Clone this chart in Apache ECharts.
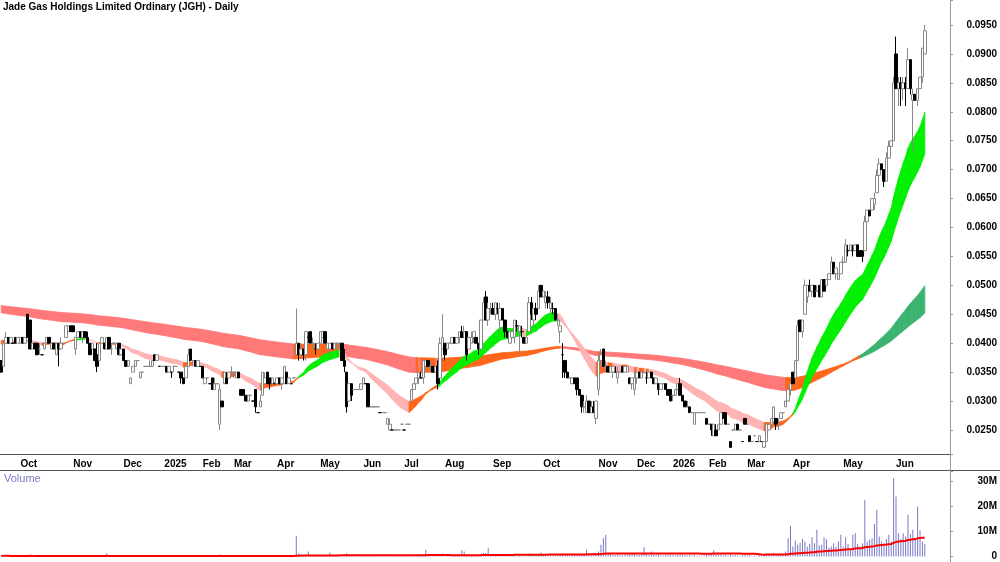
<!DOCTYPE html>
<html>
<head>
<meta charset="utf-8">
<script src="https://cdn.jsdelivr.net/npm/echarts@6/dist/echarts.min.js"></script>
<style>
  html, body { margin: 0; padding: 0; background: #fff; }
  #chart { width: 1000px; height: 562px; }
</style>
</head>
<body>
<div id="chart"></div>
<script>
// daily bars: [open, high, low, close, volume]
// prices in tenths of a cent (0.001), volume in 100k shares
var sep24 = [[37,37,35,35,3],[36,40,36,40,2],[40,42,40,41,4],[41,41,40,40,2],[40,41,40,41,1],[40,40,40,40,1],[41,41,40,40,2],[40,41,40,41,3]];
var oct24 = [[40,41,40,41,2],[41,41,40,40,1],[40,41,40,41,2],[45,45,41,41,6],[44,44,39,39,4],[39,40,39,40,2],[40,40,39,39,1],[40,40,38,38,3],[39,40,38,39,2],[38,38,38,38,1],[39,40,39,40,2],[40,41,40,41,1],[41,41,40,40,2],[39,40,39,40,3],[40,40,39,39,1],[38,40,38,40,2],[40,40,36,39,4],[39,41,39,40,2],[40,40,40,40,1],[41,43,41,43,3],[42,43,42,43,2],[43,43,42,42,2]];
var nov24 = [[43,43,42,42,2],[39,41,38,41,3],[41,42,41,42,1],[42,42,41,41,2],[41,42,40,42,1],[42,42,41,41,2],[41,42,40,40,3],[40,40,38,38,2],[39,40,39,40,1],[39,39,37,37,2],[38,40,35,36,4],[37,40,37,40,2],[40,41,40,41,2],[40,40,39,39,1],[39,41,39,41,13],[41,41,39,39,3],[39,40,38,39,1],[40,40,40,40,1],[39,40,39,40,2],[40,40,38,38,3],[38,39,38,39,1]];
var dec24 = [[39,39,37,37,3],[37,37,36,36,2],[36,37,36,37,1],[33,34,33,34,4],[35,36,35,36,2],[36,37,36,37,1],[37,37,37,37,1],[34,35,34,35,2],[35,35,35,35,1],[36,36,36,36,1],[36,36,36,36,2],[36,37,36,36,1],[36,37,36,37,2],[38,38,37,37,3],[37,38,37,38,2],[36,36,36,36,1],[36,36,36,36,1]];
var jan25 = [[36,36,36,36,1],[36,36,35,35,2],[35,36,35,36,2],[35,35,34,35,1],[36,36,35,36,2],[36,36,36,36,1],[35,35,35,35,1],[35,35,33,34,3],[34,34,33,33,2],[34,36,34,36,2],[36,39,36,38,5],[39,39,37,37,3],[37,37,36,37,1],[37,37,36,36,1],[36,37,36,37,2],[36,36,36,36,1]];
var feb25 = [[36,36,34,34,3],[33,34,33,34,2],[34,34,34,34,1],[33,33,33,33,1],[34,34,32,32,3],[32,34,32,33,2],[33,33,33,33,1],[26,33,25,32,8],[30,30,29,29,4],[33,35,33,35,3],[34,35,33,33,2],[34,35,34,35,1],[35,36,35,35,2]];
var mar25 = [[35,35,34,35,2],[34,35,34,35,1],[35,35,34,34,2],[32,32,31,31,4],[32,32,31,31,3],[31,31,30,30,2],[30,31,30,31,1],[31,31,31,31,1],[30,30,30,30,1],[32,32,28,29,5],[28,28,28,28,2],[29,31,29,30,2],[31,35,31,35,6],[33,35,33,34,3],[35,35,33,33,2],[34,34,32,33,2],[33,34,33,34,1],[33,33,33,33,1]];
var apr25 = [[33,34,33,34,2],[34,34,33,33,1],[33,34,32,34,2],[33,36,33,36,4],[35,35,33,33,2],[33,34,33,34,1],[33,33,33,33,1],[34,34,34,34,1],[38,46,38,40,83],[40,40,37,38,12],[38,40,38,39,6],[39,39,37,38,4],[38,42,37,42,8],[41,42,40,41,20],[42,42,40,40,5],[40,41,39,40,4],[39,40,38,39,3],[39,40,39,40,2]];
var may25 = [[40,42,40,42,4],[41,42,41,42,3],[42,42,40,40,5],[39,40,39,40,3],[39,40,38,40,16],[40,40,39,39,3],[39,40,39,40,2],[40,40,39,40,4],[40,40,39,40,3],[40,40,37,37,6],[37,39,35,36,5],[35,35,28,29,13],[30,33,30,33,6],[33,33,30,31,3],[32,32,32,32,2],[32,32,32,32,2],[32,32,32,32,1],[32,33,32,33,3]];
var jun25 = [[33,34,33,34,3],[33,33,33,33,2],[33,33,29,29,8],[29,29,29,29,3],[29,29,29,29,2],[29,29,29,29,1],[29,29,29,29,2],[28,28,28,28,2],[28,28,28,28,1],[28,28,28,28,1],[26,27,26,27,5],[25,27,25,26,6],[25,25,25,25,3],[25,25,25,25,2],[25,25,25,25,2],[25,25,25,25,1],[26,26,26,26,2]];
var jul25 = [[25,25,25,25,2],[26,26,26,26,2],[26,26,26,26,1],[30,32,30,32,6],[32,33,32,33,5],[33,34,33,34,4],[34,35,33,35,4],[34,35,34,34,7],[34,37,33,37,5],[36,37,35,37,27],[37,37,36,36,6],[36,37,35,36,4],[36,36,35,35,3],[35,36,35,36,3],[36,37,32,33,6],[34,41,34,40,9],[39,45,39,41,12]];
var aug25 = [[40,40,37,38,8],[39,40,39,40,4],[40,40,40,40,3],[40,41,40,41,5],[41,41,40,40,4],[40,41,40,41,6],[41,42,40,42,10],[42,43,41,41,25],[42,43,41,42,20],[42,42,37,38,9],[39,41,39,41,6],[40,42,40,41,5],[41,42,40,42,4],[41,41,40,40,5],[40,40,38,39,6],[39,44,39,44,12],[44,48,44,47,15],[48,49,44,44,14],[44,47,43,46,33],[46,47,45,46,9]];
var sep25 = [[46,47,45,45,8],[45,47,44,47,7],[46,47,45,46,5],[44,47,42,46,9],[46,46,44,44,6],[44,44,41,42,7],[42,42,41,41,5],[40,42,40,42,4],[41,42,41,42,6],[41,44,40,44,8],[43,44,42,43,5],[42,43,38,43,7],[42,43,41,42,4],[41,41,40,40,3],[40,41,40,41,5],[42,48,42,47,12],[47,48,44,45,9],[44,46,43,46,7],[46,47,44,45,6],[46,50,46,49,10],[50,50,48,48,16]];
var oct25 = [[48,49,48,49,10],[47,49,46,48,8],[48,49,46,47,6],[46,48,45,47,7],[46,47,45,46,5],[46,46,44,44,9],[44,45,43,44,6],[42,44,40,43,8],[38,40,34,38,12],[37,37,34,35,9],[35,35,34,34,6],[34,34,34,34,4],[33,34,33,34,5],[34,34,33,33,7],[34,34,31,32,9],[32,32,31,31,6],[31,31,28,29,10],[29,30,28,29,8],[28,31,28,30,27],[30,30,28,28,12],[28,30,28,29,9],[29,30,28,28,8],[27,30,26,30,14]];
var nov25 = [[32,38,31,37,20],[37,39,36,38,47],[39,39,36,36,73],[36,37,35,36,87],[36,36,35,35,15],[35,36,35,36,9],[35,36,34,36,8],[35,36,35,35,6],[34,36,33,35,9],[35,35,35,35,7],[36,36,35,35,5],[35,36,35,36,8],[35,36,35,36,6],[34,34,33,33,10],[33,34,32,34,9],[32,35,31,34,12]];
var dec25 = [[34,35,33,35,8],[35,35,34,34,6],[34,35,34,35,9],[35,35,35,35,37],[34,35,33,34,10],[34,35,34,35,7],[35,35,34,34,20],[34,34,33,33,8],[33,34,33,34,6],[33,33,31,32,9],[32,33,32,33,5],[33,33,33,33,4],[33,33,32,32,6],[32,32,31,31,8],[32,32,30,30,7]];
var jan26 = [[31,31,30,31,6],[31,32,31,32,5],[32,33,32,33,8],[33,34,31,31,9],[31,31,30,30,7],[30,30,29,29,6],[29,30,29,29,5],[29,29,28,28,8],[28,28,28,28,4],[26,28,26,28,9],[28,28,28,28,3],[28,28,28,28,4],[28,28,28,28,3],[28,28,28,28,5],[27,27,26,26,7]];
var feb26 = [[26,26,26,26,8],[26,26,24,25,9],[24,26,24,26,24],[25,26,24,24,10],[25,26,25,26,7],[26,28,26,28,9],[28,28,27,27,6],[28,28,26,26,8],[26,26,26,26,4],[23,23,22,22,9],[25,25,25,25,5],[25,26,25,26,6],[26,26,25,25,4],[25,25,25,25,3],[23,23,23,23,5],[27,27,26,26,7]];
var mar26 = [[26,26,26,26,5],[24,24,23,23,6],[23,23,23,23,3],[24,24,24,24,4],[23,23,23,23,3],[23,24,23,24,5],[23,23,23,23,3],[22,23,22,23,6],[23,26,23,26,12],[25,26,25,26,9],[26,27,26,27,11],[27,29,27,29,15],[27,27,25,26,10],[26,27,25,26,8],[27,28,27,28,9],[28,28,28,28,7],[29,30,29,30,20],[30,32,30,32,73],[32,33,31,33,123]];
var apr26 = [[35,35,33,33,40],[34,37,34,37,64],[37,44,37,43,47],[44,44,42,42,55],[42,44,41,44,70],[45,51,45,50,60],[48,50,47,50,40],[50,51,49,49,50],[49,50,48,50,77],[50,50,48,48,53],[49,50,49,49,107],[50,50,48,48,45],[48,51,48,51,47],[51,51,49,49,77],[50,51,50,51,70],[51,52,51,52,35],[52,55,52,54,40],[54,54,52,52,53],[52,53,51,53,40],[51,52,51,52,60],[52,54,52,54,87]];
var may26 = [[54,55,53,54,40],[54,58,54,57,77],[56,57,55,56,50],[56,57,56,57,33],[56,57,55,56,87],[56,57,56,57,93],[57,57,55,55,50],[56,56,55,55,40],[56,56,54,55,53],[56,62,56,61,227],[61,63,61,63,60],[63,63,62,62,67],[63,65,63,65,73],[64,66,63,65,130],[66,70,66,69,187],[69,72,68,71,80],[71,71,70,70,60],[70,70,67,68,53],[68,73,68,72,70],[72,75,72,74,87],[74,75,73,75,60],[75,86,75,85,314]];
var jun26 = [[90,93,84,84,240],[84,86,81,85,93],[85,86,81,84,70],[84,86,82,85,93],[85,86,81,84,80],[84,91,84,89,167],[89,89,83,84,90],[82,84,73,83,107],[83,83,82,82,67],[82,84,81,84,200],[84,86,84,86,105],[86,91,85,91,60],[90,95,90,94,50]];

var months = [sep24, oct24, nov24, dec24, jan25, feb25, mar25, apr25, may25, jun25, jul25, aug25,
              sep25, oct25, nov25, dec25, jan26, feb26, mar26, apr26, may26, jun26];
var monthLabels = ['', 'Oct', 'Nov', 'Dec', '2025', 'Feb', 'Mar', 'Apr', 'May', 'Jun', 'Jul', 'Aug',
                   'Sep', 'Oct', 'Nov', 'Dec', '2026', 'Feb', 'Mar', 'Apr', 'May', 'Jun'];

// moving average ribbons, seeded with the band edges read at the first bar
var shortPeriods = [22, 25, 28, 31, 34, 37];
var shortSeed = [40.3, 40.4, 40.5, 40.6, 40.7, 40.8];
var longPeriods = [150, 165, 180, 195, 210, 250];
var longSeed = [45.4, 45.6, 45.9, 46.1, 46.4, 46.6];
var volPeriod = 65;
var emptySlots = 10;

var categories = [];
var monthStart = {};
var candles = [];
var closes = [];
var volumes = [];

months.forEach(function(m, mi){
  m.forEach(function(b, k){
    var idx = categories.length;
    if(k === 0 && mi > 0){
      monthStart[idx] = monthLabels[mi];
    }
    categories.push(mi + '-' + k);
    // echarts order: open, close, low, high
    candles.push([b[0] / 1000, b[3] / 1000, b[2] / 1000, b[1] / 1000]);
    closes.push(b[3]);
    volumes.push(b[4] * 1e5);
  });
});
for(var p = 0; p < emptySlots; p++){
  categories.push('pad' + p);
}

function emaLines(periods, seeds){
  return periods.map(function(per, j){
    var a = 2 / (per + 1);
    var e = seeds[j];
    var out = [];
    for(var i = 0; i < closes.length; i++){
      e += a * (closes[i] - e);
      out.push(e);
    }
    return out;
  });
}

// 0 = close under the ribbon, 2 = ribbon fanned upward, 1 = anything else
function bandState(lines, i, lo){
  if(closes[i] < lo) return 0;
  for(var j = 1; j < lines.length; j++){
    if(lines[j - 1][i] <= lines[j][i]) return 1;
  }
  return 2;
}

function bandData(lines){
  var data = [];
  var lo = [], hi = [];
  for(var i = 0; i < closes.length; i++){
    var vals = lines.map(function(l){ return l[i]; });
    lo.push(Math.min.apply(null, vals));
    hi.push(Math.max.apply(null, vals));
  }
  for(var k = 0; k < closes.length - 1; k++){
    data.push([k, lo[k] / 1000, hi[k] / 1000, lo[k + 1] / 1000, hi[k + 1] / 1000,
               bandState(lines, k + 1, lo[k + 1])]);
  }
  return data;
}

function bandRender(colors){
  return function(params, api){
    var i = api.value(0);
    var a = api.coord([i, api.value(1)]);
    var b = api.coord([i + 1, api.value(3)]);
    var c = api.coord([i + 1, api.value(4)]);
    var d = api.coord([i, api.value(2)]);
    var col = colors[api.value(5)];
    return {
      type: 'polygon',
      shape: { points: [a, b, c, d] },
      style: { fill: col, stroke: col, lineWidth: 0.8 }
    };
  };
}

function volumeAverage(){
  var out = [];
  var sum = 0;
  for(var i = 0; i < volumes.length; i++){
    sum += volumes[i];
    if(i >= volPeriod) sum -= volumes[i - volPeriod];
    out.push(sum / Math.min(i + 1, volPeriod));
  }
  return out;
}

var shortBand = bandData(emaLines(shortPeriods, shortSeed));
var longBand = bandData(emaLines(longPeriods, longSeed));
var volAvg = volumeAverage();

var font = 'Liberation Sans, Arial, sans-serif';
var isMonth = function(index){ return monthStart[index] !== undefined; };

var chart = echarts.init(document.getElementById('chart'));
chart.setOption({
  animation: false,
  title: {
    text: 'Jade Gas Holdings Limited Ordinary (JGH) - Daily',
    left: 3, top: 2, padding: 0,
    textStyle: { fontSize: 10, fontWeight: 'bold', color: '#000', fontFamily: font }
  },
  graphic: [
    { type: 'line', shape: { x1: 0, y1: 470.5, x2: 1000, y2: 470.5 }, style: { stroke: '#555', lineWidth: 1 }, z: 10 },
    { type: 'line', shape: { x1: 950.5, y1: 0, x2: 950.5, y2: 562 }, style: { stroke: '#999', lineWidth: 1 }, z: 10 },
    { type: 'text', left: 4, top: 473, style: { text: 'Volume', fill: '#7b7bc8', fontSize: 11, fontFamily: font }, z: 10 }
  ],
  grid: [
    { left: 0, top: 0, width: 950, height: 454 },
    { left: 0, top: 471, width: 950, height: 85.5 }
  ],
  xAxis: [{
    type: 'category',
    gridIndex: 0,
    data: categories,
    boundaryGap: true,
    axisLine: { lineStyle: { color: '#555', width: 1 } },
    axisTick: { interval: isMonth, length: 3, lineStyle: { color: '#555' } },
    axisLabel: {
      interval: isMonth,
      formatter: function(v, index){ return monthStart[index] || ''; },
      align: 'left',
      margin: 5,
      fontSize: 10,
      fontWeight: 'bold',
      color: '#000',
      fontFamily: font
    },
    splitLine: { show: false }
  }, {
    type: 'category',
    gridIndex: 1,
    data: categories,
    boundaryGap: true,
    axisLine: { show: false },
    axisTick: { show: false },
    axisLabel: { show: false }
  }],
  yAxis: [{
    type: 'value',
    gridIndex: 0,
    position: 'right',
    min: 0.02085,
    max: 0.09932,
    splitNumber: 15,
    axisLine: { show: true, lineStyle: { color: '#999' } },
    axisTick: { show: true, length: 3, lineStyle: { color: '#999' } },
    axisLabel: {
      formatter: function(v){
        var n = Math.round(v * 1000) / 5;
        return Math.abs(n - Math.round(n)) < 0.01 ? v.toFixed(4) : '';
      },
      align: 'right',
      margin: 47,
      fontSize: 10,
      fontWeight: 'bold',
      color: '#000',
      fontFamily: font
    },
    splitLine: { show: false }
  }, {
    type: 'value',
    gridIndex: 1,
    position: 'right',
    min: 0,
    max: 34.2e6,
    interval: 10e6,
    axisLine: { show: true, lineStyle: { color: '#999' } },
    axisTick: { show: true, length: 3, lineStyle: { color: '#999' } },
    axisLabel: {
      formatter: function(v){
        if(v % 10e6 !== 0) return '';
        return v === 0 ? '0' : (v / 1e6) + 'M';
      },
      align: 'right',
      margin: 47,
      fontSize: 10,
      fontWeight: 'bold',
      color: '#000',
      fontFamily: font
    },
    splitLine: { show: false }
  }],
  series: [{
    type: 'custom',
    name: 'long',
    xAxisIndex: 0, yAxisIndex: 0,
    renderItem: bandRender(['#ff7878', '#ff661a', '#3cb371']),
    encode: { x: 0, y: [1, 2, 3, 4] },
    data: longBand,
    clip: true,
    z: 1
  }, {
    type: 'custom',
    name: 'short',
    xAxisIndex: 0, yAxisIndex: 0,
    renderItem: bandRender(['#ffb4b4', '#ff661a', '#00f000']),
    encode: { x: 0, y: [1, 2, 3, 4] },
    data: shortBand,
    clip: true,
    z: 2
  }, {
    type: 'candlestick',
    xAxisIndex: 0, yAxisIndex: 0,
    data: candles,
    barWidth: 3,
    itemStyle: {
      color: '#fff',
      color0: '#000',
      borderColor: '#888',
      borderColor0: '#000',
      borderWidth: 1
    },
    z: 3
  }, {
    type: 'bar',
    xAxisIndex: 1, yAxisIndex: 1,
    data: volumes,
    barWidth: 1,
    itemStyle: { color: '#7878c8' },
    z: 2
  }, {
    type: 'line',
    xAxisIndex: 1, yAxisIndex: 1,
    data: volAvg,
    symbol: 'none',
    lineStyle: { color: '#ff0000', width: 2 },
    z: 3
  }]
});
</script>
</body>
</html>
